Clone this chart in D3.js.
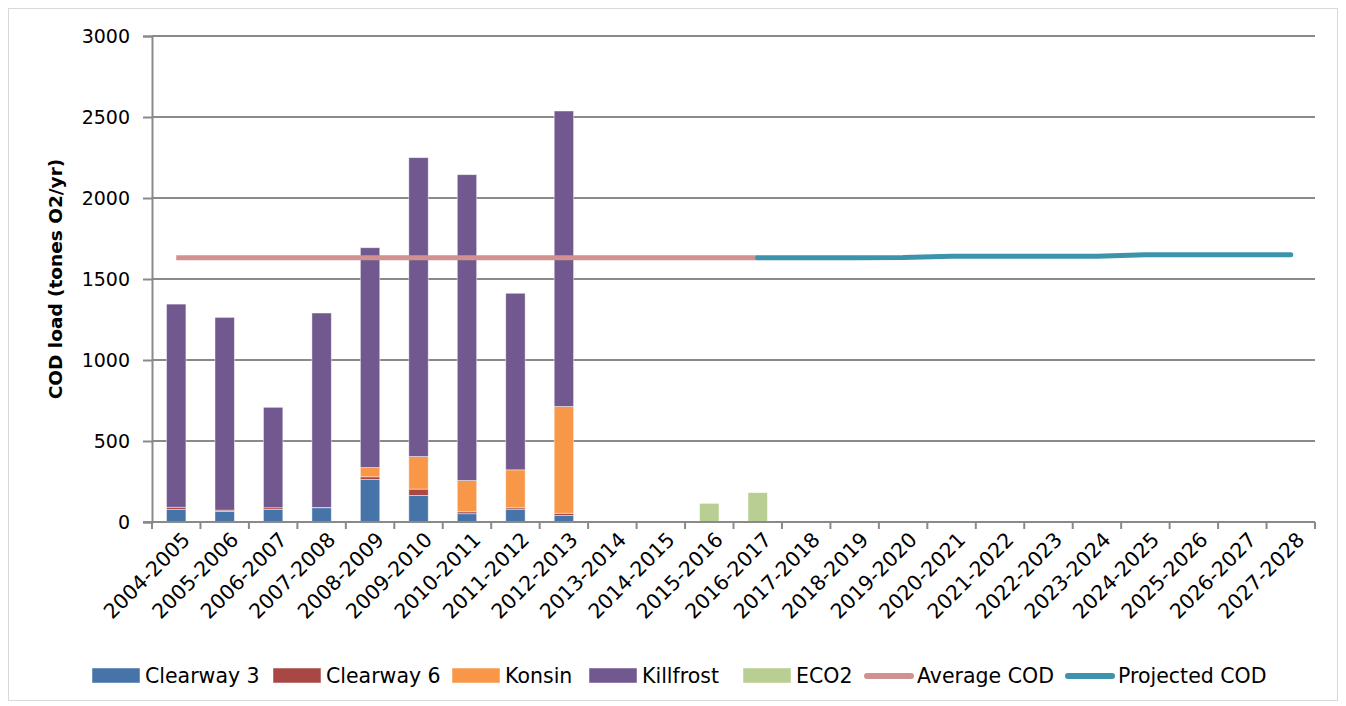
<!DOCTYPE html>
<html>
<head>
<meta charset="utf-8">
<script src="https://cdn.jsdelivr.net/npm/d3@7"></script>
<style>
  html, body { margin: 0; padding: 0; background: #fff; }
  svg { display: block; font-family: "DejaVu Sans", sans-serif; }
</style>
</head>
<body>
<svg id="chart" width="1346" height="706"></svg>
<script>
// Seasons on the category axis
const categories = [
  "2004-2005","2005-2006","2006-2007","2007-2008","2008-2009","2009-2010",
  "2010-2011","2011-2012","2012-2013","2013-2014","2014-2015","2015-2016",
  "2016-2017","2017-2018","2018-2019","2019-2020","2020-2021","2021-2022",
  "2022-2023","2023-2024","2024-2025","2025-2026","2026-2027","2027-2028"
];

// COD load per de-icing product (tonnes O2 / yr)
const clearway3 = [77, 65, 77, 88, 262, 164, 51, 79, 40, 0, 0, 0, 0, 0, 0, 0, 0, 0, 0, 0, 0, 0, 0, 0];
const clearway6 = [14, 8, 11, 2, 17, 39, 12, 9, 14, 0, 0, 0, 0, 0, 0, 0, 0, 0, 0, 0, 0, 0, 0, 0];
const konsin    = [0, 0, 0, 0, 57, 201, 193, 234, 659, 0, 0, 0, 0, 0, 0, 0, 0, 0, 0, 0, 0, 0, 0, 0];
const killfrost = [1254, 1190, 620, 1200, 1357, 1845, 1888, 1090, 1824, 0, 0, 0, 0, 0, 0, 0, 0, 0, 0, 0, 0, 0, 0, 0];
const eco2      = [0, 0, 0, 0, 0, 0, 0, 0, 0, 0, 0, 115, 181, 0, 0, 0, 0, 0, 0, 0, 0, 0, 0, 0];

// Average and projected COD lines
const averageCOD = [1631, 1631, 1631, 1631, 1631, 1631, 1631, 1631, 1631, 1631, 1631, 1631, 1631,
  null, null, null, null, null, null, null, null, null, null, null];
const projectedCOD = [null, null, null, null, null, null, null, null, null, null, null, null,
  1631, 1631, 1631, 1632, 1640, 1640, 1641, 1641, 1649, 1649, 1650, 1650];

const yTicks = [0, 500, 1000, 1500, 2000, 2500, 3000];

const barSeries = [
  { key: "Clearway 3", values: clearway3, color: "#4673A8" },
  { key: "Clearway 6", values: clearway6, color: "#A94744" },
  { key: "Konsin",     values: konsin,    color: "#F79747" },
  { key: "Killfrost",  values: killfrost, color: "#71598F" },
  { key: "ECO2",       values: eco2,      color: "#B8CE93" }
];
const lineSeries = [
  { key: "Average COD",   values: averageCOD,   color: "#D19190" },
  { key: "Projected COD", values: projectedCOD, color: "#3C93AC" }
];

const svg = d3.select("#chart");
const plot = { left: 152, right: 1315, top: 36, bottom: 522 };

// outer chart frame
svg.append("rect")
  .attr("x", 8.5).attr("y", 8.5).attr("width", 1329).attr("height", 692)
  .attr("fill", "#fff").attr("stroke", "#d9d9d9").attr("stroke-width", 1);

const x = d3.scaleBand().domain(categories).range([plot.left, plot.right]).padding(0);
const y = d3.scaleLinear().domain([0, 3000]).range([plot.bottom, plot.top]);

const gridColor = "#8a8a8a";

// horizontal gridlines + y axis
const yAxis = d3.axisLeft(y).tickValues(yTicks).tickSize(9).tickPadding(13).tickFormat(d3.format("d"));
const gy = svg.append("g").attr("transform", `translate(${plot.left},0)`).call(yAxis);
gy.select(".domain").attr("stroke", gridColor).attr("stroke-width", 2);
gy.selectAll(".tick line").attr("stroke", gridColor).attr("stroke-width", 2);
gy.selectAll(".tick text").attr("font-size", 19).attr("fill", "#000")
  .attr("font-family", "DejaVu Sans");

svg.append("g").selectAll("line").data(yTicks.filter(d => d > 0)).join("line")
  .attr("x1", plot.left).attr("x2", plot.right)
  .attr("y1", d => y(d)).attr("y2", d => y(d))
  .attr("stroke", gridColor).attr("stroke-width", 2);

// stacked bars
const rows = categories.map((c, i) => {
  const r = { cat: c };
  barSeries.forEach(s => r[s.key] = s.values[i]);
  return r;
});
const stack = d3.stack().keys(barSeries.map(s => s.key));
const stacked = stack(rows);
const barW = x.bandwidth() * 0.4;

svg.append("g").selectAll("g").data(stacked).join("g")
  .attr("fill", (d, i) => barSeries[i].color)
  .selectAll("rect").data(d => d.filter(p => p[1] - p[0] > 0)).join("rect")
  .attr("x", p => x(p.data.cat) + (x.bandwidth() - barW) / 2)
  .attr("width", barW)
  .attr("y", p => y(p[1]))
  .attr("height", p => y(p[0]) - y(p[1]))
  .attr("stroke", "rgba(255,255,255,0.55)").attr("stroke-width", 0.8);

// x axis
const xAxis = d3.axisBottom(x).tickSize(0).tickFormat("");
const gx = svg.append("g").attr("transform", `translate(0,${plot.bottom})`).call(xAxis);
gx.select(".domain").remove();
gx.append("line").attr("x1", plot.left - 9).attr("x2", plot.right)
  .attr("stroke", gridColor).attr("stroke-width", 2);
const boundaries = categories.map(c => x(c)).concat([plot.right]);
gx.selectAll(".bt").data(boundaries).join("line").attr("class", "bt")
  .attr("x1", d => d).attr("x2", d => d).attr("y1", 0).attr("y2", 7)
  .attr("stroke", gridColor).attr("stroke-width", 2);

svg.append("g").selectAll("text").data(categories).join("text")
  .attr("transform", d => `translate(${x(d) + x.bandwidth() / 2 + 10},${plot.bottom + 14}) rotate(-45)`)
  .attr("text-anchor", "end")
  .attr("dy", "0.35em")
  .attr("font-size", 20.5)
  .attr("fill", "#000")
  .text(d => d);

// lines
lineSeries.forEach(s => {
  const line = d3.line()
    .defined(d => d != null)
    .x((d, i) => x(categories[i]) + x.bandwidth() / 2)
    .y(d => y(d));
  svg.append("path")
    .attr("d", line(s.values))
    .attr("fill", "none")
    .attr("stroke", s.color)
    .attr("stroke-width", 5)
    .attr("stroke-linecap", s.key === "Projected COD" ? "round" : "butt")
    .attr("stroke-linejoin", "round");
});

// y axis title
svg.append("text")
  .attr("transform", `translate(62,${(plot.top + plot.bottom) / 2}) rotate(-90)`)
  .attr("text-anchor", "middle")
  .attr("font-size", 18.5)
  .attr("font-weight", "bold")
  .attr("fill", "#000")
  .text("COD load (tones O2/yr)");

// legend
const legend = svg.append("g");
const legendItems = barSeries.map(s => ({ key: s.key, color: s.color, type: "bar" }))
  .concat(lineSeries.map(s => ({ key: s.key, color: s.color, type: "line" })));
const legendX = [92, 273, 452, 589, 743, 864, 1065];
const ly = 676;
legendItems.forEach((item, i) => {
  const lx = legendX[i];
  if (item.type === "bar") {
    legend.append("rect").attr("x", lx).attr("y", ly - 8).attr("width", 48).attr("height", 15)
      .attr("fill", item.color).attr("stroke", "rgba(255,255,255,0.6)").attr("stroke-width", 0.8);
  } else {
    legend.append("line").attr("x1", lx + 3).attr("x2", lx + 47).attr("y1", ly).attr("y2", ly)
      .attr("stroke", item.color).attr("stroke-width", 6).attr("stroke-linecap", "round");
  }
  legend.append("text").attr("x", lx + 53).attr("y", ly).attr("dy", "0.36em")
    .attr("font-size", 20.5).attr("fill", "#000").text(item.key);
});
</script>
</body>
</html>
